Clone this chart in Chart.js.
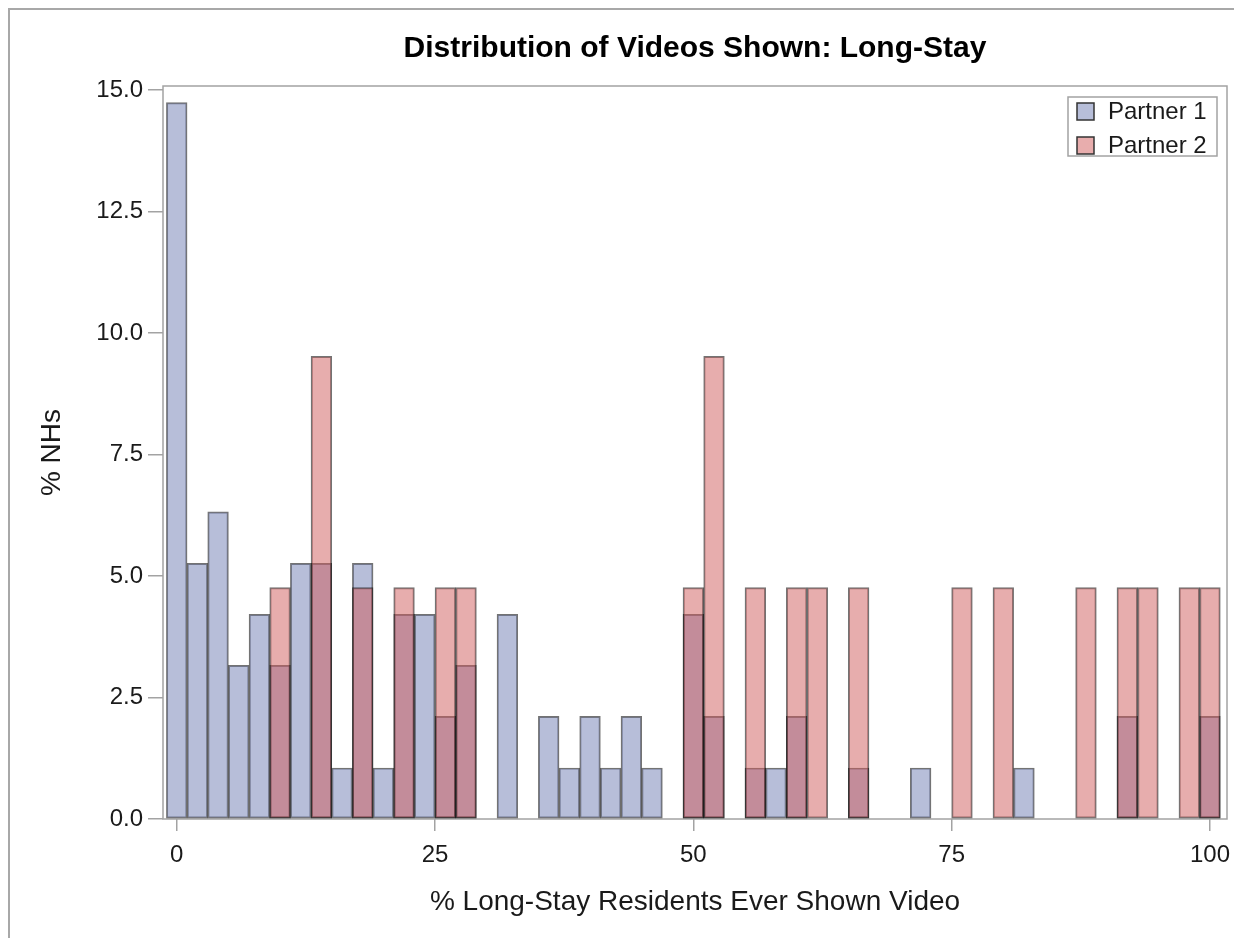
<!DOCTYPE html>
<html>
<head>
<meta charset="utf-8">
<script src="https://cdn.jsdelivr.net/npm/chart.js@4.4.1/dist/chart.umd.min.js"></script>
<style>
  html, body { margin: 0; padding: 0; background: #ffffff; }
  #wrap { position: relative; width: 1234px; height: 938px; }
</style>
</head>
<body>
<div id="wrap"><canvas id="c" width="1234" height="938"></canvas></div>
<script>
// ---- data ----
const chartTitle = 'Distribution of Videos Shown: Long-Stay';
const xTitle = '% Long-Stay Residents Ever Shown Video';
const yTitle = '% NHs';
const seriesNames = ['Partner 1', 'Partner 2'];

// histogram bin midpoints (% of residents)
const binCenters = [0, 2, 4, 6, 8, 10, 12, 14, 16, 18, 20, 22, 24, 26, 28, 30, 32, 34, 36, 38,
  40, 42, 44, 46, 48, 50, 52, 54, 56, 58, 60, 62, 64, 66, 68, 70, 72, 74, 76, 78,
  80, 82, 84, 86, 88, 90, 92, 94, 96, 98, 100];

// % of nursing homes in each bin
const partner1 = [14.74, 5.26, 6.32, 3.16, 4.21, 3.16, 5.26, 5.26, 1.05, 5.26,
  1.05, 4.21, 4.21, 2.11, 3.16, 0, 4.21, 0, 2.11, 1.05,
  2.11, 1.05, 2.11, 1.05, 0, 4.21, 2.11, 0, 1.05, 1.05,
  2.11, 0, 0, 1.05, 0, 0, 1.05, 0, 0, 0,
  0, 1.05, 0, 0, 0, 0, 2.11, 0, 0, 0, 2.11];
const partner2 = [0, 0, 0, 0, 0, 4.76, 0, 9.52, 0, 4.76,
  0, 4.76, 0, 4.76, 4.76, 0, 0, 0, 0, 0,
  0, 0, 0, 0, 0, 4.76, 9.52, 0, 4.76, 0,
  4.76, 4.76, 0, 4.76, 0, 0, 0, 0, 4.76, 0,
  4.76, 0, 0, 0, 4.76, 0, 4.76, 4.76, 0, 4.76, 4.76];

const xTicks = [0, 25, 50, 75, 100];
const yTicks = [0, 2.5, 5, 7.5, 10, 12.5, 15];
const yTickLabels = ['0.0', '2.5', '5.0', '7.5', '10.0', '12.5', '15.0'];

// ---- styling ----
const FONT = "'Liberation Sans', Arial, sans-serif";
const fills = ['rgba(111,126,179,0.5)', 'rgba(208,91,91,0.5)'];
const swatchFills = ['#b7bed9', '#e8adad'];
const edge = 'rgba(0,0,0,0.55)';
const frameColor = '#a3a3a3';
const textColor = '#1a1a1a';

const framePlugin = {
  id: 'frames',
  beforeDraw(chart) {
    const ctx = chart.ctx;
    ctx.save();
    ctx.strokeStyle = '#a8a8a8';
    ctx.lineWidth = 2;
    ctx.beginPath();
    ctx.moveTo(9, chart.height);
    ctx.lineTo(9, 9);
    ctx.lineTo(chart.width, 9);
    ctx.stroke();
    ctx.restore();
  },
  beforeDatasetsDraw(chart) {
    const a = chart.chartArea, ctx = chart.ctx;
    ctx.save();
    ctx.strokeStyle = frameColor;
    ctx.lineWidth = 1.5;
    ctx.strokeRect(a.left, a.top, a.right - a.left, a.bottom - a.top);
    ctx.restore();
  },
  afterDraw(chart) {
    // legend box in the upper right of the plot area
    const a = chart.chartArea, ctx = chart.ctx;
    const boxR = a.right - 10, boxT = a.top + 11;
    const boxW = 149, boxH = 59;
    const boxL = boxR - boxW;
    ctx.save();
    ctx.strokeStyle = frameColor;
    ctx.lineWidth = 1.5;
    ctx.strokeRect(boxL, boxT, boxW, boxH);
    ctx.font = '24px ' + FONT;
    ctx.textBaseline = 'middle';
    ctx.textAlign = 'left';
    chart.data.datasets.forEach((ds, i) => {
      const sy = boxT + 6 + i * 34;
      ctx.fillStyle = swatchFills[i];
      ctx.fillRect(boxL + 9, sy, 17, 17);
      ctx.strokeStyle = '#333';
      ctx.lineWidth = 1.5;
      ctx.strokeRect(boxL + 9, sy, 17, 17);
      ctx.fillStyle = textColor;
      ctx.fillText(ds.label, boxL + 40, sy + 9);
    });
    ctx.restore();
  }
};

const makeData = (vals) => binCenters.map((x, i) => ({ x: x, y: vals[i] }));

new Chart(document.getElementById('c'), {
  type: 'bar',
  data: {
    datasets: [
      { label: seriesNames[0], data: makeData(partner1), backgroundColor: fills[0], order: 2 },
      { label: seriesNames[1], data: makeData(partner2), backgroundColor: fills[1], order: 1 }
    ]
  },
  options: {
    responsive: false,
    animation: false,
    devicePixelRatio: 1,
    layout: { padding: { left: 0, right: 7, top: 0, bottom: 0 } },
    datasets: {
      bar: {
        grouped: false,
        barPercentage: 1,
        categoryPercentage: 1,
        borderColor: edge,
        borderWidth: 1.3,
        borderSkipped: false
      }
    },
    plugins: {
      legend: { display: false },
      tooltip: { enabled: false },
      title: {
        display: true,
        text: chartTitle,
        fullSize: false,
        color: '#000',
        font: { family: FONT, size: 30, weight: 'bold', lineHeight: 1.2 },
        padding: { top: 31, bottom: 19 }
      }
    },
    scales: {
      x: {
        type: 'linear',
        min: -1.33,
        max: 101.65,
        offset: false,
        afterBuildTicks: (axis) => { axis.ticks = xTicks.map(v => ({ value: v })); },
        afterFit: (axis) => { axis.height = 119; axis.paddingLeft = 0; axis.paddingRight = 0; },
        grid: { display: true, offset: false, drawOnChartArea: false, drawTicks: true, tickLength: 12, color: frameColor, lineWidth: 1.5 },
        border: { display: false },
        ticks: {
          autoSkip: false, maxRotation: 0, minRotation: 0, padding: 10,
          color: textColor, font: { family: FONT, size: 24 },
          callback: (v) => String(v)
        },
        title: {
          display: true, text: xTitle, color: textColor,
          font: { family: FONT, size: 28, lineHeight: 1.2 },
          padding: { top: 0, bottom: 19 }
        }
      },
      y: {
        min: 0,
        max: 15.08,
        afterBuildTicks: (axis) => { axis.ticks = yTicks.map(v => ({ value: v })); },
        afterFit: (axis) => { axis.width = 163; axis.paddingTop = 0; axis.paddingBottom = 0; },
        grid: { display: true, drawOnChartArea: false, drawTicks: true, tickLength: 15, color: frameColor, lineWidth: 1.5 },
        border: { display: false },
        ticks: {
          padding: 5,
          color: textColor, font: { family: FONT, size: 24 },
          callback: (v) => yTickLabels[yTicks.indexOf(v)]
        },
        title: {
          display: true, text: yTitle, color: textColor,
          font: { family: FONT, size: 28, lineHeight: 1.2 },
          padding: { top: 35, bottom: 0 }
        }
      }
    }
  },
  plugins: [framePlugin]
});
</script>
</body>
</html>
